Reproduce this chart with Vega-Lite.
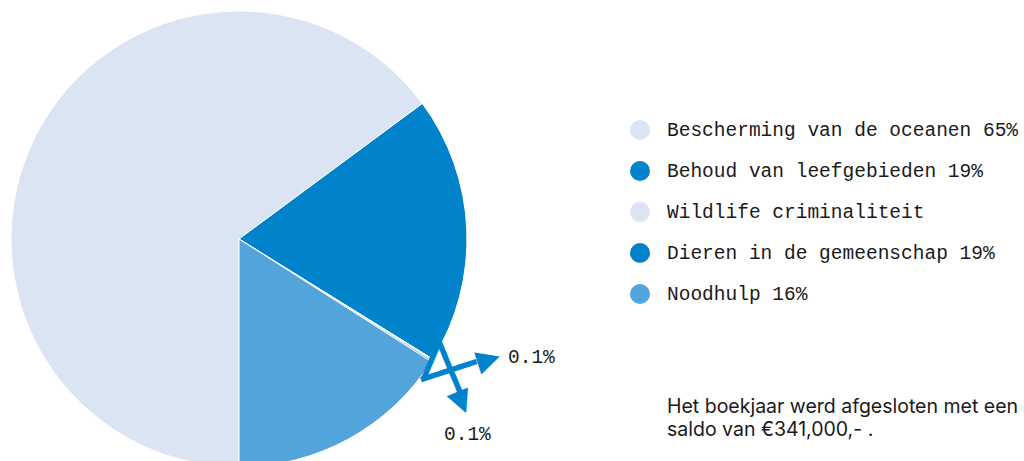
{
  "$schema": "https://vega.github.io/schema/vega-lite/v6.json",
  "width": 478,
  "height": 478,
  "padding": 0,
  "background": "white",
  "view": {"stroke": null},
  "title": {
    "text": ["Het boekjaar werd afgesloten met een", "saldo van €341,000,- ."],
    "orient": "bottom",
    "anchor": "start",
    "frame": "group",
    "offset": -80,
    "dx": 667,
    "font": "Inter",
    "fontSize": 19.5,
    "fontWeight": "normal",
    "color": "#1a1a1a",
    "lineHeight": 22.5,
    "baseline": "top"
  },
  "data": {
    "values": [
      {"category": "Bescherming van de oceanen 65%", "value": 65, "order": 1},
      {"category": "Behoud van leefgebieden 19%", "value": 19, "order": 2},
      {"category": "Wildlife criminaliteit", "value": 0.1, "order": 3},
      {"category": "Dieren in de gemeenschap 19%", "value": 0.1, "order": 4},
      {"category": "Noodhulp 16%", "value": 16, "order": 5}
    ]
  },
  "transform": [
    {"stack": "value", "groupby": [], "sort": [{"field": "order", "order": "ascending"}], "as": ["s0", "s1"]}
  ],
  "layer": [
    {
      "mark": {"type": "arc", "outerRadius": 228, "stroke": "white", "strokeWidth": 1},
      "encoding": {
        "theta": {
          "field": "value",
          "type": "quantitative",
          "stack": true,
          "scale": {"domain": [0, 100.2], "range": [3.14159265, 9.42477796]}
        },
        "order": {"field": "order", "type": "quantitative"},
        "color": {
          "field": "category",
          "type": "nominal",
          "scale": {
            "domain": [
              "Bescherming van de oceanen 65%",
              "Behoud van leefgebieden 19%",
              "Wildlife criminaliteit",
              "Dieren in de gemeenschap 19%",
              "Noodhulp 16%"
            ],
            "range": ["#dbe4f2", "#0083cb", "#dbe4f2", "#0083cb", "#53a4db"]
          },
          "legend": {
            "orient": "none",
            "legendX": 630,
            "legendY": 120,
            "title": null,
            "symbolType": "circle",
            "symbolSize": 400,
            "symbolStrokeWidth": 0,
            "labelFont": "Liberation Mono",
            "labelFontSize": 19.5,
            "labelColor": "#1a1a1a",
            "labelLimit": 600,
            "rowPadding": 21,
            "labelOffset": 17,
            "padding": 0
          }
        }
      }
    },
    {
      "transform": [{"filter": "datum.order == 3"}],
      "mark": {"type": "text", "radius": 258, "text": "━━", "font": "DejaVu Sans", "fontSize": 32, "angle": 112.8, "dx": -3.5, "dy": 31.2, "color": "#0083cb"},
      "encoding": {"theta": {"field": "s1", "type": "quantitative"}}
    },
    {
      "transform": [{"filter": "datum.order == 3"}],
      "mark": {"type": "text", "radius": 258, "text": "━━━", "font": "DejaVu Sans", "fontSize": 32, "angle": -17.8, "dx": -6.5, "dy": -7.1, "color": "#0083cb"},
      "encoding": {"theta": {"field": "s1", "type": "quantitative"}}
    },
    {
      "transform": [{"filter": "datum.order == 3"}],
      "mark": {"type": "text", "radius": 258, "text": "━━━", "font": "DejaVu Sans", "fontSize": 32, "angle": 67.5, "dx": -12.3, "dy": 4.8, "color": "#0083cb"},
      "encoding": {"theta": {"field": "s1", "type": "quantitative"}}
    },
    {
      "transform": [{"filter": "datum.order == 3"}],
      "mark": {"type": "text", "radius": 258, "text": "▶", "font": "DejaVu Sans", "fontSize": 30, "angle": -17.8, "dx": 34.6, "dy": -7.3, "color": "#0083cb"},
      "encoding": {"theta": {"field": "s1", "type": "quantitative"}}
    },
    {
      "transform": [{"filter": "datum.order == 3"}],
      "mark": {"type": "text", "radius": 258, "text": "▶", "font": "DejaVu Sans", "fontSize": 30, "angle": 67.5, "dx": 25.7, "dy": 4.8, "color": "#0083cb"},
      "encoding": {"theta": {"field": "s1", "type": "quantitative"}}
    },
    {
      "transform": [{"filter": "datum.order == 3"}],
      "mark": {"type": "text", "radius": 258, "dx": 74, "dy": -19, "text": "0.1%", "font": "Liberation Mono", "fontSize": 19.5, "color": "#1a1a1a"},
      "encoding": {"theta": {"field": "s1", "type": "quantitative"}}
    },
    {
      "transform": [{"filter": "datum.order == 4"}],
      "mark": {"type": "text", "radius": 258, "dx": 10, "dy": 58, "text": "0.1%", "font": "Liberation Mono", "fontSize": 19.5, "color": "#1a1a1a"},
      "encoding": {"theta": {"field": "s0", "type": "quantitative"}}
    }
  ]
}
